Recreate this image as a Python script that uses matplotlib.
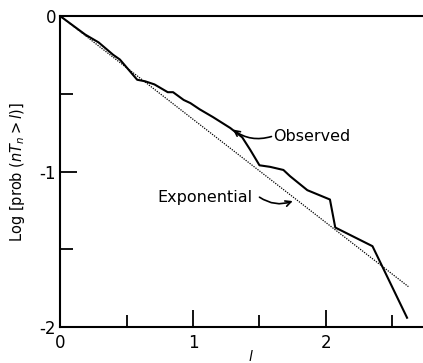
import matplotlib
matplotlib.use("Agg")
import matplotlib.pyplot as plt
from matplotlib.ticker import FixedLocator

# observed curve
obs_l = [0.0, 0.19, 0.29, 0.40, 0.45, 0.58, 0.64, 0.71, 0.75, 0.81, 0.85, 0.93,
         0.98, 1.05, 1.15, 1.28, 1.37, 1.43, 1.50, 1.58, 1.68, 1.73, 1.86, 2.03,
         2.07, 2.35, 2.61]
obs_logp = [0.0, -0.12, -0.17, -0.25, -0.28, -0.41, -0.42, -0.44, -0.46, -0.49,
            -0.49, -0.54, -0.56, -0.60, -0.65, -0.72, -0.78, -0.86, -0.96, -0.97,
            -0.99, -1.03, -1.12, -1.18, -1.36, -1.48, -1.94]

# exponential fit (straight line on log scale)
exp_l = [0.0, 2.62]
exp_logp = [0.0, -1.74]

fig = plt.figure(figsize=(4.23, 3.63), dpi=100)
ax = fig.add_axes([0.142, 0.099, 0.858, 0.857])

ax.plot(obs_l, obs_logp, color="black", lw=1.5)
ax.plot(exp_l, exp_logp, color="black", lw=0.9, ls=(0, (1, 1)))

ax.set_xlim(0, 2.73)
ax.set_ylim(-2, 0)

ax.spines["right"].set_visible(False)
for s in ["left", "bottom", "top"]:
    ax.spines[s].set_linewidth(1.5)

ax.xaxis.set_major_locator(FixedLocator([0, 1, 2]))
ax.xaxis.set_minor_locator(FixedLocator([0.5, 1.5, 2.5]))
ax.yaxis.set_major_locator(FixedLocator([-2, -1, 0]))
ax.yaxis.set_minor_locator(FixedLocator([-1.5, -0.5]))
ax.set_xticklabels(["0", "1", "2"])
ax.set_yticklabels(["-2", "-1", "0"])
ax.tick_params(which="major", direction="in", length=12, width=1.3, labelsize=12, pad=5)
ax.tick_params(which="minor", direction="in", length=9, width=1.3)
ax.tick_params(axis="y", which="major", pad=3)

ax.set_xlabel("$l$", fontsize=10)
ax.xaxis.set_label_coords(0.526, -0.07)
ax.set_ylabel(r"Log [prob ($nT_n > l$)]", fontsize=10.5, labelpad=9)

# labels with hooked arrows
ax.text(1.60, -0.775, "Observed", fontsize=11.5, va="center", ha="left")
ax.annotate("", xy=(1.30, -0.73), xytext=(1.59, -0.775),
            arrowprops=dict(arrowstyle="->", color="black", lw=1.2,
                            shrinkA=0, shrinkB=0,
                            connectionstyle="arc3,rad=-0.25"))
ax.text(0.73, -1.165, "Exponential", fontsize=11.5, va="center", ha="left")
ax.annotate("", xy=(1.75, -1.19), xytext=(1.50, -1.165),
            arrowprops=dict(arrowstyle="->", color="black", lw=1.2,
                            shrinkA=0, shrinkB=0,
                            connectionstyle="arc3,rad=0.25"))

fig.savefig("out.png", dpi=100)
